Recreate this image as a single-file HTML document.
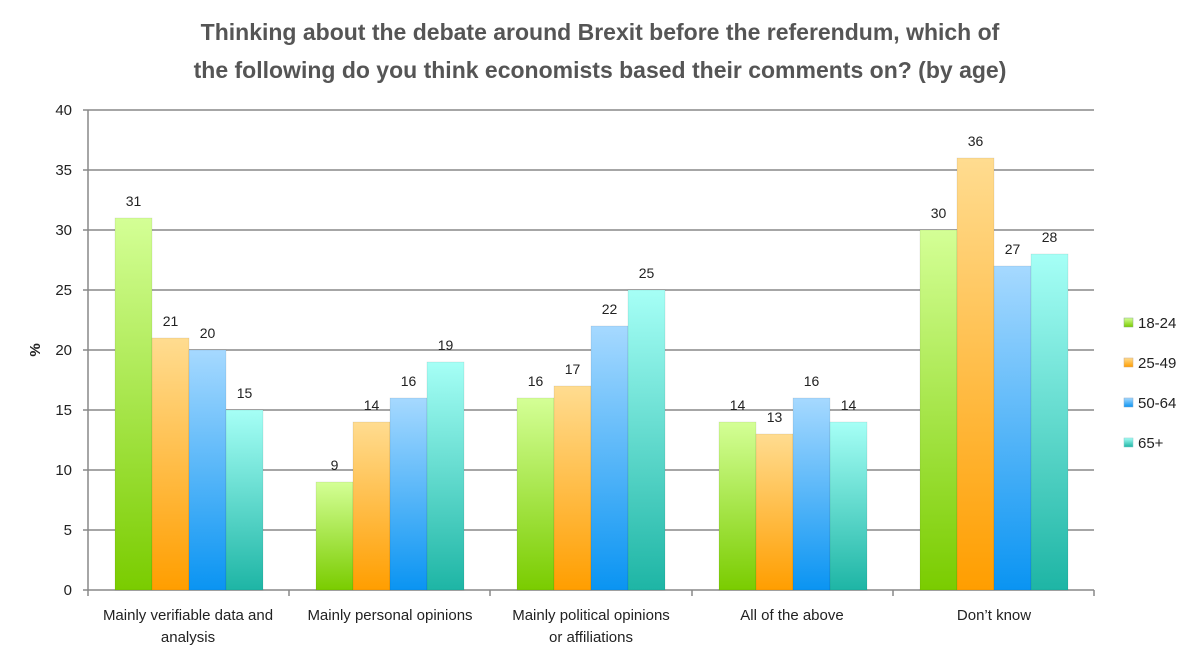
<!DOCTYPE html>
<html><head><meta charset="utf-8"><style>
body{margin:0;background:#fff;}
svg{display:block;font-family:"Liberation Sans",sans-serif;}
</style></head><body>
<svg width="1200" height="660" viewBox="0 0 1200 660">
<defs>
<linearGradient id="g1" x1="0" y1="0" x2="0" y2="1"><stop offset="0" stop-color="#d4ff96"/><stop offset="1" stop-color="#7acc00"/></linearGradient>
<linearGradient id="g2" x1="0" y1="0" x2="0" y2="1"><stop offset="0" stop-color="#ffdc90"/><stop offset="1" stop-color="#ff9e00"/></linearGradient>
<linearGradient id="g3" x1="0" y1="0" x2="0" y2="1"><stop offset="0" stop-color="#a6d9ff"/><stop offset="1" stop-color="#0a94f2"/></linearGradient>
<linearGradient id="g4" x1="0" y1="0" x2="0" y2="1"><stop offset="0" stop-color="#a6fff6"/><stop offset="1" stop-color="#1eb5a5"/></linearGradient>
</defs>
<text x="600" y="40" text-anchor="middle" font-size="23" font-weight="bold" fill="#555">Thinking about the debate around Brexit before the referendum, which of</text>
<text x="600" y="78" text-anchor="middle" font-size="23" font-weight="bold" fill="#555">the following do you think economists based their comments on? (by age)</text>
<g stroke="#888" stroke-width="1.5">
<line x1="88" y1="110" x2="1094" y2="110"/><line x1="88" y1="170" x2="1094" y2="170"/>
<line x1="88" y1="230" x2="1094" y2="230"/><line x1="88" y1="290" x2="1094" y2="290"/>
<line x1="88" y1="350" x2="1094" y2="350"/><line x1="88" y1="410" x2="1094" y2="410"/>
<line x1="88" y1="470" x2="1094" y2="470"/><line x1="88" y1="530" x2="1094" y2="530"/>
<line x1="88" y1="590" x2="1094" y2="590"/>
<line x1="88" y1="110" x2="88" y2="590"/>
<line x1="83" y1="110" x2="88" y2="110"/><line x1="83" y1="170" x2="88" y2="170"/><line x1="83" y1="230" x2="88" y2="230"/><line x1="83" y1="290" x2="88" y2="290"/><line x1="83" y1="350" x2="88" y2="350"/><line x1="83" y1="410" x2="88" y2="410"/><line x1="83" y1="470" x2="88" y2="470"/><line x1="83" y1="530" x2="88" y2="530"/><line x1="83" y1="590" x2="88" y2="590"/>
<line x1="88" y1="590" x2="88" y2="596"/><line x1="289" y1="590" x2="289" y2="596"/><line x1="490" y1="590" x2="490" y2="596"/><line x1="692" y1="590" x2="692" y2="596"/><line x1="893" y1="590" x2="893" y2="596"/><line x1="1094" y1="590" x2="1094" y2="596"/>
</g>
<g font-size="15" fill="#222" text-anchor="end">
<text x="72" y="115">40</text><text x="72" y="175">35</text><text x="72" y="235">30</text><text x="72" y="295">25</text><text x="72" y="355">20</text><text x="72" y="415">15</text><text x="72" y="475">10</text><text x="72" y="535">5</text><text x="72" y="595">0</text>
</g>
<text transform="translate(40,350) rotate(-90)" text-anchor="middle" font-size="15" font-weight="bold" fill="#222">%</text>
<g stroke="rgba(0,0,0,0.15)" stroke-width="0.5">
<rect x="115" y="218" width="37" height="372" fill="url(#g1)"/>
<rect x="152" y="338" width="37" height="252" fill="url(#g2)"/>
<rect x="189" y="350" width="37" height="240" fill="url(#g3)"/>
<rect x="226" y="410" width="37" height="180" fill="url(#g4)"/>
<rect x="316" y="482" width="37" height="108" fill="url(#g1)"/>
<rect x="353" y="422" width="37" height="168" fill="url(#g2)"/>
<rect x="390" y="398" width="37" height="192" fill="url(#g3)"/>
<rect x="427" y="362" width="37" height="228" fill="url(#g4)"/>
<rect x="517" y="398" width="37" height="192" fill="url(#g1)"/>
<rect x="554" y="386" width="37" height="204" fill="url(#g2)"/>
<rect x="591" y="326" width="37" height="264" fill="url(#g3)"/>
<rect x="628" y="290" width="37" height="300" fill="url(#g4)"/>
<rect x="719" y="422" width="37" height="168" fill="url(#g1)"/>
<rect x="756" y="434" width="37" height="156" fill="url(#g2)"/>
<rect x="793" y="398" width="37" height="192" fill="url(#g3)"/>
<rect x="830" y="422" width="37" height="168" fill="url(#g4)"/>
<rect x="920" y="230" width="37" height="360" fill="url(#g1)"/>
<rect x="957" y="158" width="37" height="432" fill="url(#g2)"/>
<rect x="994" y="266" width="37" height="324" fill="url(#g3)"/>
<rect x="1031" y="254" width="37" height="336" fill="url(#g4)"/>
</g>
<g font-size="14" fill="#222" text-anchor="middle">
<text x="133.5" y="206">31</text><text x="170.5" y="326">21</text><text x="207.5" y="338">20</text><text x="244.5" y="398">15</text>
<text x="334.5" y="470">9</text><text x="371.5" y="410">14</text><text x="408.5" y="386">16</text><text x="445.5" y="350">19</text>
<text x="535.5" y="386">16</text><text x="572.5" y="374">17</text><text x="609.5" y="314">22</text><text x="646.5" y="278">25</text>
<text x="737.5" y="410">14</text><text x="774.5" y="422">13</text><text x="811.5" y="386">16</text><text x="848.5" y="410">14</text>
<text x="938.5" y="218">30</text><text x="975.5" y="146">36</text><text x="1012.5" y="254">27</text><text x="1049.5" y="242">28</text>
</g>
<g font-size="15" fill="#222" text-anchor="middle">
<text x="188" y="620">Mainly verifiable data and</text><text x="188" y="642">analysis</text>
<text x="390" y="620">Mainly personal opinions</text>
<text x="591" y="620">Mainly political opinions</text><text x="591" y="642">or affiliations</text>
<text x="792" y="620">All of the above</text>
<text x="994" y="620">Don’t know</text>
</g>
<g font-size="15" fill="#222">
<rect x="1124" y="318" width="9" height="9" fill="url(#g1)" stroke="#8a8" stroke-width="0.5"/><text x="1138" y="328">18-24</text>
<rect x="1124" y="358" width="9" height="9" fill="url(#g2)" stroke="#ca8" stroke-width="0.5"/><text x="1138" y="368">25-49</text>
<rect x="1124" y="398" width="9" height="9" fill="url(#g3)" stroke="#8ac" stroke-width="0.5"/><text x="1138" y="408">50-64</text>
<rect x="1124" y="438" width="9" height="9" fill="url(#g4)" stroke="#8cc" stroke-width="0.5"/><text x="1138" y="448">65+</text>
</g>
</svg>
</body></html>
